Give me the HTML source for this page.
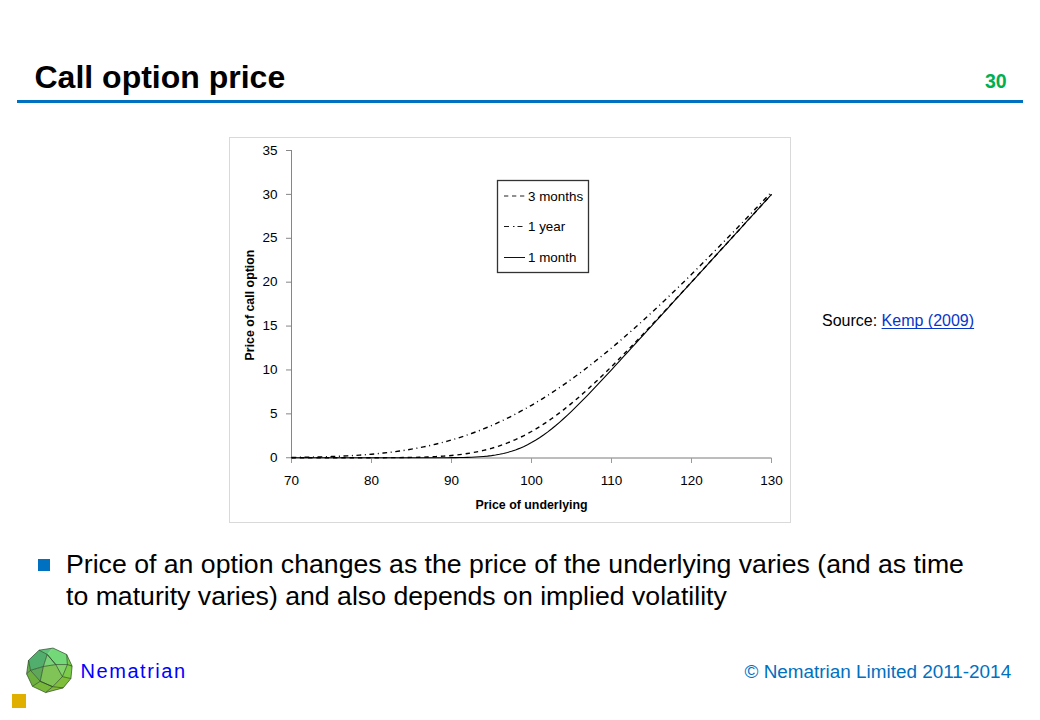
<!DOCTYPE html>
<html><head><meta charset="utf-8">
<style>
html,body{margin:0;padding:0;background:#fff;}
body{width:1040px;height:720px;position:relative;overflow:hidden;font-family:"Liberation Sans",sans-serif;}
.abs{position:absolute;white-space:nowrap;}
#title{left:34.5px;top:57px;font-size:32px;font-weight:bold;color:#000;line-height:40px;}
#pnum{left:985px;top:69px;font-size:19.5px;font-weight:bold;color:#00B050;line-height:24px;}
#rule{left:17px;top:100px;width:1006px;height:3px;background:#0070C0;}
#src{left:822px;top:311px;font-size:16px;color:#000;line-height:20px;}
#src a{color:#0836C8;text-decoration:underline;text-decoration-skip-ink:none;text-underline-offset:1.6px;}
#bul{left:38px;top:559px;width:12px;height:12px;background:#0070C0;}
#btxt{left:66px;top:548.35px;font-size:26.67px;color:#000;line-height:32px;}
#nem{left:80.5px;top:658.7px;font-size:20px;color:#0000FF;line-height:24px;letter-spacing:1.55px;}
#copy{left:744.5px;top:661.2px;font-size:18.9px;color:#0070C0;line-height:22px;}
#gold{left:12px;top:694px;width:14px;height:14px;background:#E0B000;}
svg text{font-family:"Liberation Sans",sans-serif;}
</style></head><body>
<div id="title" class="abs">Call option price</div>
<div id="pnum" class="abs">30</div>
<div id="rule" class="abs"></div>
<svg class="abs" style="left:0;top:0" width="1040" height="720" viewBox="0 0 1040 720">
  <rect x="229.5" y="137.5" width="561" height="385" fill="#fff" stroke="#D9D9D9" stroke-width="1"/>
  <g fill="none">
    <path d="M291.5,150 V458" stroke="#868686" stroke-width="1"/>
    <path d="M291,458 H771.5" stroke="#7a7a7a" stroke-width="1"/>
    <path d="M286,457.75 H291.5 M286,413.86 H291.5 M286,369.96 H291.5 M286,326.07 H291.5 M286,282.18 H291.5 M286,238.29 H291.5 M286,194.39 H291.5 M286,150.50 H291.5 " stroke="#868686" stroke-width="1"/>
    <path d="M291.5,458 V463 M371.5,458 V463 M451.5,458 V463 M531.5,458 V463 M611.5,458 V463 M691.5,458 V463 M771.5,458 V463 " stroke="#9a9a9a" stroke-width="1"/>
  </g>
  <g font-size="13.5" fill="#000" text-anchor="end"><text x="277.5" y="461.9">0</text><text x="277.5" y="418.0">5</text><text x="277.5" y="374.1">10</text><text x="277.5" y="330.2">15</text><text x="277.5" y="286.3">20</text><text x="277.5" y="242.4">25</text><text x="277.5" y="198.5">30</text><text x="277.5" y="154.6">35</text></g>
  <g font-size="13.5" fill="#000" text-anchor="middle"><text x="291.5" y="485">70</text><text x="371.5" y="485">80</text><text x="451.5" y="485">90</text><text x="531.5" y="485">100</text><text x="611.5" y="485">110</text><text x="691.5" y="485">120</text><text x="771.5" y="485">130</text></g>
  <text x="531.5" y="508.5" font-size="12.4" font-weight="bold" text-anchor="middle">Price of underlying</text>
  <text transform="translate(253.5,305) rotate(-90)" font-size="12.4" font-weight="bold" text-anchor="middle">Price of call option</text>
  <g fill="none" stroke="#000">
    <path d="M291.5,457.75 L295.5,457.75 L299.5,457.75 L303.5,457.75 L307.5,457.75 L311.5,457.75 L315.5,457.75 L319.5,457.75 L323.5,457.75 L327.5,457.75 L331.5,457.75 L335.5,457.75 L339.5,457.75 L343.5,457.75 L347.5,457.75 L351.5,457.75 L355.5,457.75 L359.5,457.75 L363.5,457.75 L367.5,457.75 L371.5,457.75 L375.5,457.75 L379.5,457.75 L383.5,457.75 L387.5,457.75 L391.5,457.75 L395.5,457.75 L399.5,457.75 L403.5,457.75 L407.5,457.75 L411.5,457.75 L415.5,457.75 L419.5,457.75 L423.5,457.75 L427.5,457.74 L431.5,457.74 L435.5,457.73 L439.5,457.72 L443.5,457.71 L447.5,457.69 L451.5,457.66 L455.5,457.62 L459.5,457.56 L463.5,457.48 L467.5,457.37 L471.5,457.23 L475.5,457.04 L479.5,456.79 L483.5,456.48 L487.5,456.09 L491.5,455.61 L495.5,455.01 L499.5,454.29 L503.5,453.44 L507.5,452.43 L511.5,451.26 L515.5,449.91 L519.5,448.38 L523.5,446.65 L527.5,444.72 L531.5,442.59 L535.5,440.25 L539.5,437.72 L543.5,434.99 L547.5,432.08 L551.5,428.99 L555.5,425.74 L559.5,422.33 L563.5,418.78 L567.5,415.11 L571.5,411.32 L575.5,407.44 L579.5,403.46 L583.5,399.41 L587.5,395.30 L591.5,391.14 L595.5,386.92 L599.5,382.68 L603.5,378.40 L607.5,374.09 L611.5,369.77 L615.5,365.43 L619.5,361.08 L623.5,356.72 L627.5,352.35 L631.5,347.98 L635.5,343.60 L639.5,339.22 L643.5,334.84 L647.5,330.45 L651.5,326.06 L655.5,321.68 L659.5,317.29 L663.5,312.90 L667.5,308.51 L671.5,304.12 L675.5,299.74 L679.5,295.35 L683.5,290.96 L687.5,286.57 L691.5,282.18 L695.5,277.79 L699.5,273.40 L703.5,269.01 L707.5,264.62 L711.5,260.23 L715.5,255.84 L719.5,251.45 L723.5,247.06 L727.5,242.67 L731.5,238.29 L735.5,233.90 L739.5,229.51 L743.5,225.12 L747.5,220.73 L751.5,216.34 L755.5,211.95 L759.5,207.56 L763.5,203.17 L767.5,198.78 L771.5,194.39" stroke-width="1.1"/>
    <path d="M291.5,457.75 L295.5,457.75 L299.5,457.75 L303.5,457.75 L307.5,457.75 L311.5,457.75 L315.5,457.75 L319.5,457.75 L323.5,457.75 L327.5,457.75 L331.5,457.75 L335.5,457.75 L339.5,457.75 L343.5,457.75 L347.5,457.75 L351.5,457.74 L355.5,457.74 L359.5,457.74 L363.5,457.74 L367.5,457.73 L371.5,457.73 L375.5,457.72 L379.5,457.71 L383.5,457.69 L387.5,457.67 L391.5,457.65 L395.5,457.62 L399.5,457.59 L403.5,457.54 L407.5,457.49 L411.5,457.42 L415.5,457.34 L419.5,457.25 L423.5,457.13 L427.5,456.99 L431.5,456.83 L435.5,456.63 L439.5,456.41 L443.5,456.14 L447.5,455.84 L451.5,455.48 L455.5,455.08 L459.5,454.62 L463.5,454.10 L467.5,453.52 L471.5,452.86 L475.5,452.13 L479.5,451.31 L483.5,450.41 L487.5,449.42 L491.5,448.33 L495.5,447.15 L499.5,445.85 L503.5,444.46 L507.5,442.95 L511.5,441.33 L515.5,439.59 L519.5,437.74 L523.5,435.78 L527.5,433.69 L531.5,431.49 L535.5,429.17 L539.5,426.74 L543.5,424.19 L547.5,421.53 L551.5,418.76 L555.5,415.89 L559.5,412.91 L563.5,409.83 L567.5,406.65 L571.5,403.39 L575.5,400.03 L579.5,396.60 L583.5,393.08 L587.5,389.49 L591.5,385.83 L595.5,382.10 L599.5,378.31 L603.5,374.47 L607.5,370.57 L611.5,366.62 L615.5,362.63 L619.5,358.60 L623.5,354.52 L627.5,350.42 L631.5,346.28 L635.5,342.11 L639.5,337.92 L643.5,333.71 L647.5,329.47 L651.5,325.21 L655.5,320.94 L659.5,316.66 L663.5,312.36 L667.5,308.05 L671.5,303.72 L675.5,299.39 L679.5,295.05 L683.5,290.71 L687.5,286.36 L691.5,282.00 L695.5,277.64 L699.5,273.27 L703.5,268.90 L707.5,264.53 L711.5,260.16 L715.5,255.78 L719.5,251.40 L723.5,247.02 L727.5,242.64 L731.5,238.26 L735.5,233.87 L739.5,229.49 L743.5,225.10 L747.5,220.71 L751.5,216.33 L755.5,211.94 L759.5,207.55 L763.5,203.16 L767.5,198.78 L771.5,194.39" stroke-width="1.4" stroke-dasharray="4.4 3.9"/>
    <path d="M291.5,457.43 L295.5,457.38 L299.5,457.32 L303.5,457.26 L307.5,457.19 L311.5,457.11 L315.5,457.02 L319.5,456.92 L323.5,456.81 L327.5,456.69 L331.5,456.55 L335.5,456.40 L339.5,456.23 L343.5,456.05 L347.5,455.85 L351.5,455.63 L355.5,455.39 L359.5,455.13 L363.5,454.85 L367.5,454.54 L371.5,454.21 L375.5,453.85 L379.5,453.46 L383.5,453.04 L387.5,452.59 L391.5,452.11 L395.5,451.59 L399.5,451.04 L403.5,450.45 L407.5,449.83 L411.5,449.16 L415.5,448.45 L419.5,447.70 L423.5,446.90 L427.5,446.06 L431.5,445.18 L435.5,444.24 L439.5,443.26 L443.5,442.22 L447.5,441.14 L451.5,440.00 L455.5,438.81 L459.5,437.57 L463.5,436.27 L467.5,434.91 L471.5,433.50 L475.5,432.03 L479.5,430.50 L483.5,428.92 L487.5,427.27 L491.5,425.57 L495.5,423.81 L499.5,421.98 L503.5,420.10 L507.5,418.16 L511.5,416.16 L515.5,414.10 L519.5,411.98 L523.5,409.80 L527.5,407.56 L531.5,405.27 L535.5,402.91 L539.5,400.50 L543.5,398.03 L547.5,395.50 L551.5,392.92 L555.5,390.28 L559.5,387.59 L563.5,384.84 L567.5,382.05 L571.5,379.19 L575.5,376.29 L579.5,373.34 L583.5,370.34 L587.5,367.28 L591.5,364.19 L595.5,361.04 L599.5,357.85 L603.5,354.61 L607.5,351.34 L611.5,348.02 L615.5,344.65 L619.5,341.25 L623.5,337.81 L627.5,334.33 L631.5,330.82 L635.5,327.26 L639.5,323.68 L643.5,320.06 L647.5,316.40 L651.5,312.72 L655.5,309.00 L659.5,305.26 L663.5,301.49 L667.5,297.69 L671.5,293.86 L675.5,290.00 L679.5,286.13 L683.5,282.23 L687.5,278.30 L691.5,274.35 L695.5,270.39 L699.5,266.40 L703.5,262.39 L707.5,258.37 L711.5,254.32 L715.5,250.26 L719.5,246.18 L723.5,242.09 L727.5,237.98 L731.5,233.86 L735.5,229.72 L739.5,225.57 L743.5,221.41 L747.5,217.23 L751.5,213.05 L755.5,208.85 L759.5,204.64 L763.5,200.43 L767.5,196.20 L771.5,191.96" stroke-width="1.4" stroke-dasharray="4.8 3.6 1 3.6"/>
  </g>
  <rect x="497.5" y="180.5" width="91" height="92" fill="#fff" stroke="#333" stroke-width="1.3"/>
  <g fill="none" stroke="#000">
    <path d="M504,196 H525" stroke-width="1.1" stroke-dasharray="4.3 3.7" stroke="#222"/>
    <path d="M504,226.5 H525" stroke-width="1.1" stroke-dasharray="5 4 1.5 3" stroke="#1a1a1a"/>
    <path d="M504,257.5 H525" stroke-width="1" stroke="#111"/>
  </g>
  <g font-size="13.4" fill="#000">
    <text x="528" y="200.5">3 months</text>
    <text x="528" y="231">1 year</text>
    <text x="528" y="261.5">1 month</text>
  </g>
</svg>
<div id="src" class="abs">Source: <a>Kemp (2009)</a></div>
<div id="bul" class="abs"></div>
<div id="btxt" class="abs">Price of an option changes as the price of the underlying varies (and as time<br>to maturity varies) and also depends on implied volatility</div>
<svg class="abs" style="left:20px;top:642px" width="60" height="56" viewBox="0 0 771.6 720">
  <polygon points="110,235 245,105 350,160 300,315 135,365" fill="#52AE6C"/><polygon points="245,105 425,78 350,160" fill="#62C27A"/><polygon points="425,78 600,160 610,290 460,290 350,160" fill="#72D878"/><polygon points="350,160 460,290 300,315" fill="#7AD37A"/><polygon points="460,290 610,290 545,445" fill="#82D46A"/><polygon points="600,160 670,310 655,470 545,445 610,290" fill="#7CCB4A"/><polygon points="300,315 460,290 545,445 420,575 260,505" fill="#80C458"/><polygon points="135,365 300,315 260,505" fill="#5FA85A"/><polygon points="85,410 135,365 260,505 160,570" fill="#6DB040"/><polygon points="110,235 135,365 85,410" fill="#68AE4C"/><polygon points="160,570 260,505 420,575 330,650" fill="#78B83A"/><polygon points="420,575 545,445 655,470 555,590" fill="#7EBE3A"/><polygon points="330,650 420,575 555,590" fill="#84BC3A"/>
  <path d="M110,235 L245,105 L350,160 L300,315 L135,365 L110,235 M245,105 L425,78 M425,78 L600,160 L610,290 L460,290 L350,160 M350,160 L460,290 M460,290 L300,315 M610,290 L545,445 L460,290 M600,160 L670,310 L655,470 L545,445 M610,290 L670,310 M545,445 L420,575 L260,505 L300,315 M135,365 L260,505 M85,410 L135,365 M110,235 L85,410 L160,570 L330,650 L555,590 L655,470 M160,570 L260,505 M260,505 L420,575 L330,650 M420,575 L555,590" fill="none" stroke="#233F22" stroke-width="8.5" stroke-linejoin="round"/>
</svg>
<div id="nem" class="abs">Nematrian</div>
<div id="gold" class="abs"></div>
<div id="copy" class="abs">© Nematrian Limited 2011-2014</div>
</body></html>
